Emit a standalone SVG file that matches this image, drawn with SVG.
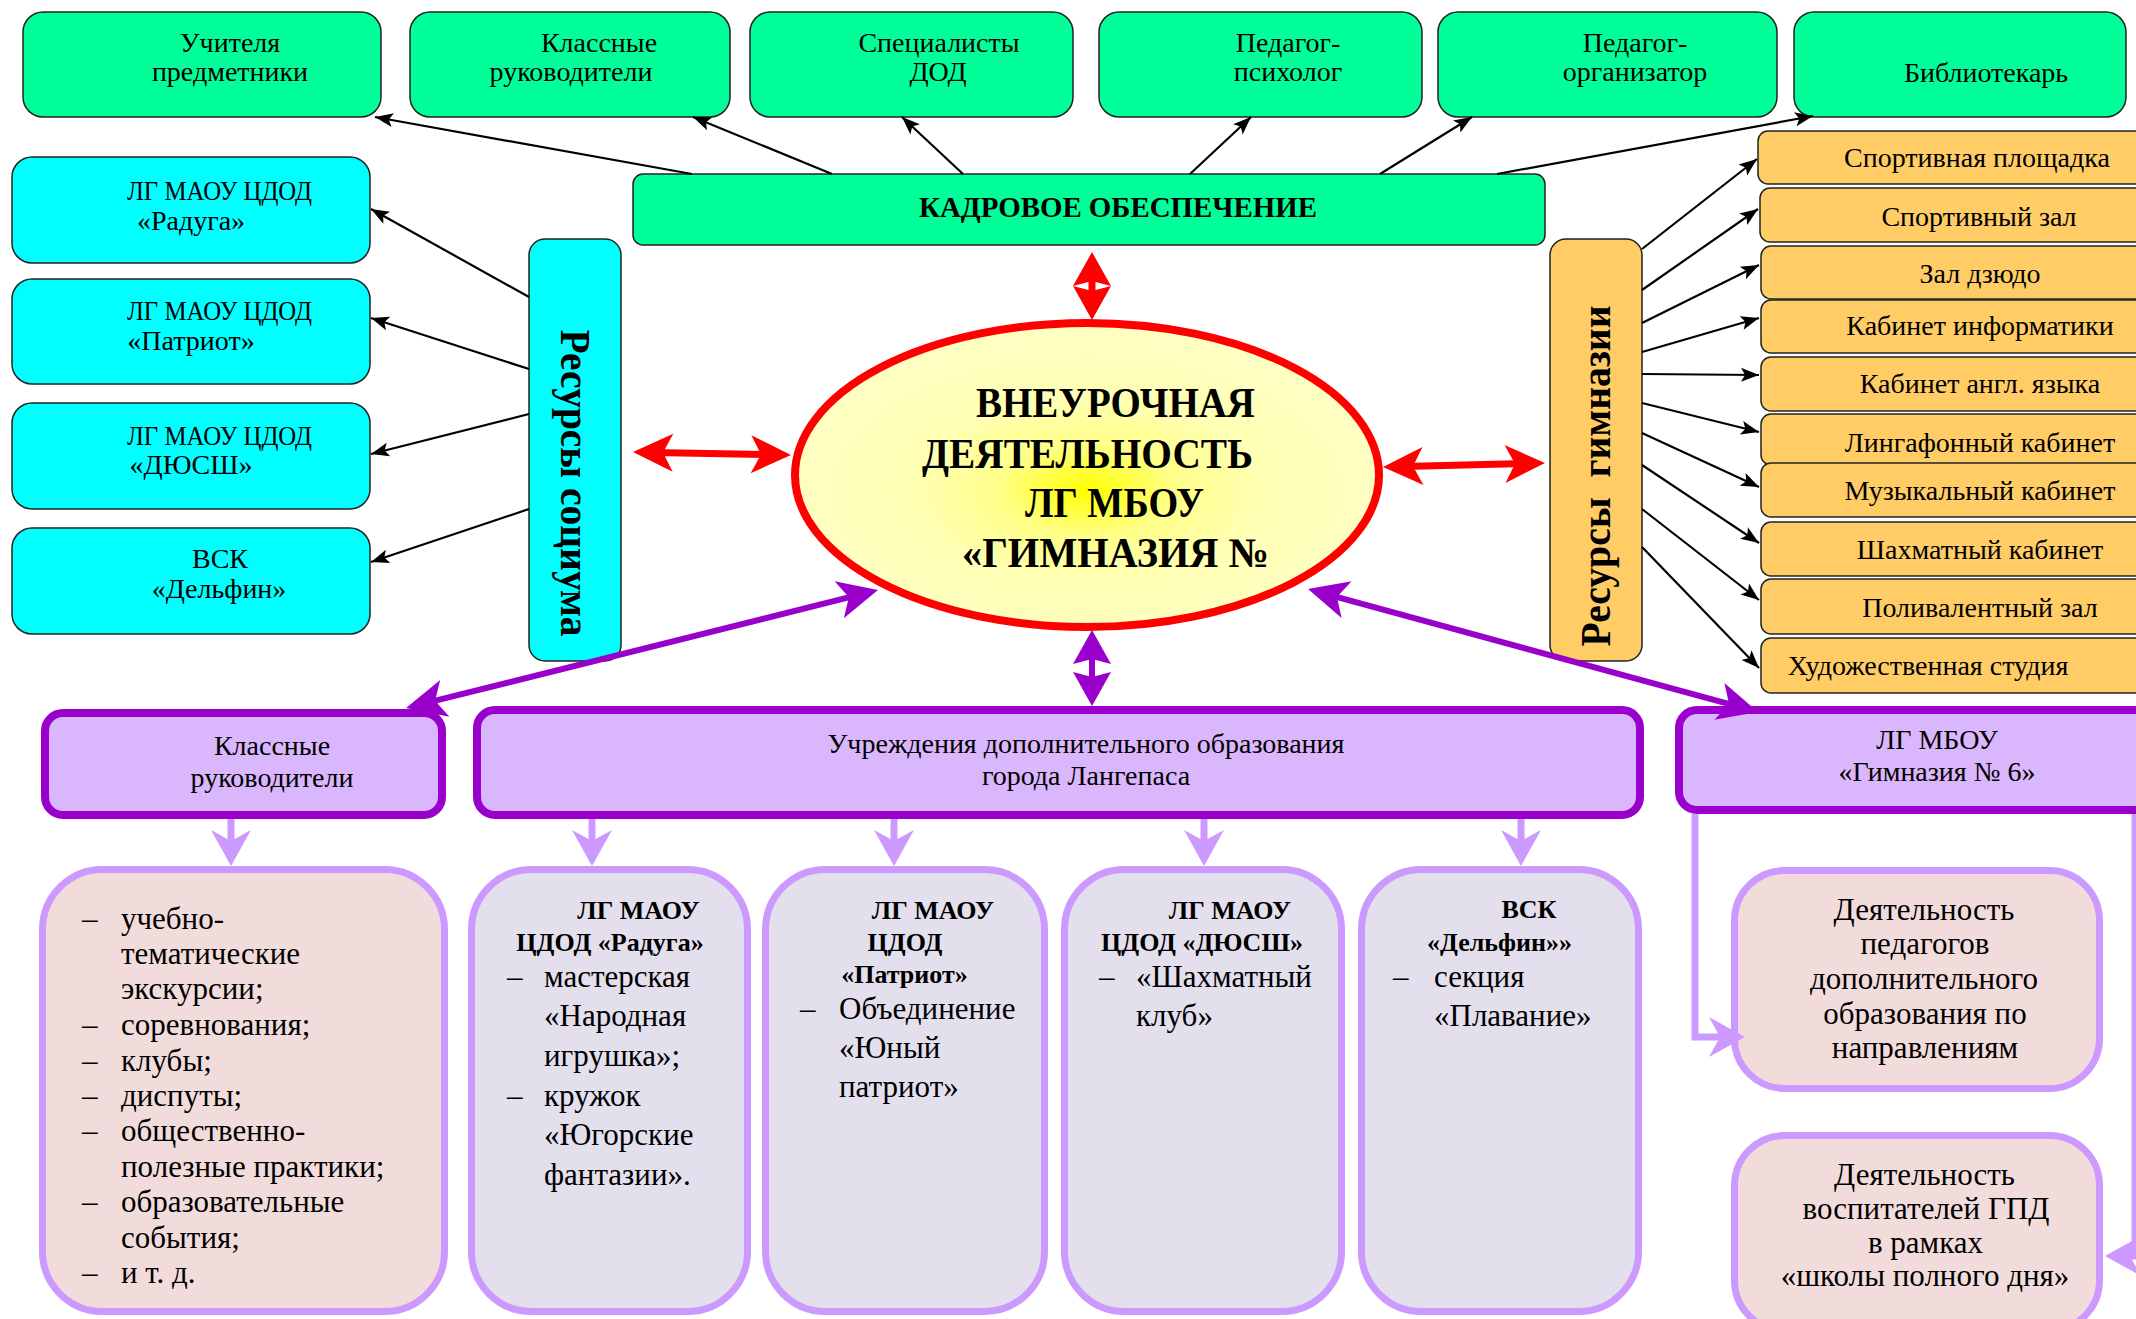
<svg xmlns="http://www.w3.org/2000/svg" width="2136" height="1319" viewBox="0 0 2136 1319">
<style>
.g{fill:#00FF99;stroke:#222;stroke-width:1.5}
.c{fill:#00FFFF;stroke:#222;stroke-width:1.5}
.o{fill:#FFCC66;stroke:#222;stroke-width:1.5}
.p{fill:#DAB6FC;stroke:#9900CC;stroke-width:8}
.lp{fill:#F2DCDB;stroke:#CC99FF;stroke-width:7}
.lg{fill:#E4DFEC;stroke:#CC99FF;stroke-width:7}
text{font-family:"Liberation Serif","Times New Roman",serif;fill:#000}
.t{font-size:28px}
.m{text-anchor:middle}
.l{font-size:31px}
.h{font-size:26px;font-weight:bold}
.bb{font-weight:bold}
.k{stroke:#000;stroke-width:2.2;fill:none}
.r{stroke:#FF0000;stroke-width:7;fill:none}
.v{stroke:#9900CC;stroke-width:6;fill:none}
.lv{stroke:#CC99FF;stroke-width:7;fill:none}
</style>
<defs>
<radialGradient id="eg" cx="0.5" cy="0.55" r="0.5">
<stop offset="0" stop-color="#FFFF00"/>
<stop offset="0.3" stop-color="#FFFF88"/>
<stop offset="0.6" stop-color="#FFFFB4"/>
<stop offset="1" stop-color="#FFFFC2"/>
</radialGradient>
<marker id="ab" viewBox="-20 -8 22 16" markerWidth="22" markerHeight="16" refX="0" refY="0" orient="auto" markerUnits="userSpaceOnUse"><path d="M0,0 L-18,-7 L-14,0 L-18,7 Z" fill="#000"/></marker>
<marker id="ar" viewBox="-22 -21 44 42" markerWidth="44" markerHeight="42" refX="0" refY="0" orient="auto-start-reverse" markerUnits="userSpaceOnUse"><path d="M20,0 L-20,-19 L-10,0 L-20,19 Z" fill="#FF0000"/></marker>
<marker id="av" viewBox="-22 -21 44 42" markerWidth="44" markerHeight="42" refX="0" refY="0" orient="auto-start-reverse" markerUnits="userSpaceOnUse"><path d="M20,0 L-20,-19 L-10,0 L-20,19 Z" fill="#9900CC"/></marker>
<marker id="dr" viewBox="-19 -21 38 42" markerWidth="38" markerHeight="42" refX="0" refY="0" orient="auto-start-reverse" markerUnits="userSpaceOnUse"><path d="M17,0 L-17,-19 L-12,0 L-17,19 Z" fill="#FF0000"/></marker>
<marker id="dv" viewBox="-19 -21 38 42" markerWidth="38" markerHeight="42" refX="0" refY="0" orient="auto-start-reverse" markerUnits="userSpaceOnUse"><path d="M17,0 L-17,-19 L-12,0 L-17,19 Z" fill="#9900CC"/></marker>
<marker id="al" viewBox="-20 -22 40 44" markerWidth="40" markerHeight="44" refX="0" refY="0" orient="auto" markerUnits="userSpaceOnUse"><path d="M18,0 L-18,-20 L-7,0 L-18,20 Z" fill="#CC99FF"/></marker>
</defs>
<rect width="2136" height="1319" fill="#FFFFFF"/>

<g id="staff-teachers"><rect class="g" x="23" y="12" width="358" height="105" rx="20"/><text class="t m" x="230" y="52">Учителя</text><text class="t m" x="230" y="81">предметники</text></g>
<g id="staff-class"><rect class="g" x="410" y="12" width="320" height="105" rx="20"/><text class="t m" x="599" y="52">Классные</text><text class="t m" x="571" y="81">руководители</text></g>
<g id="staff-dod"><rect class="g" x="750" y="12" width="323" height="105" rx="20"/><text class="t m" x="939" y="52">Специалисты</text><text class="t m" x="938" y="81">ДОД</text></g>
<g id="staff-psy"><rect class="g" x="1099" y="12" width="323" height="105" rx="20"/><text class="t m" x="1288" y="52">Педагог-</text><text class="t m" x="1288" y="81">психолог</text></g>
<g id="staff-org"><rect class="g" x="1438" y="12" width="339" height="105" rx="20"/><text class="t m" x="1635" y="52">Педагог-</text><text class="t m" x="1635" y="81">организатор</text></g>
<g id="staff-lib"><rect class="g" x="1794" y="12" width="332" height="105" rx="20"/><text class="t m" x="1986" y="82">Библиотекарь</text></g>

<g id="staffing"><rect class="g" x="633" y="174" width="912" height="71" rx="10"/><text class="bb m" x="1118" y="217" font-size="30" textLength="398" lengthAdjust="spacingAndGlyphs">КАДРОВОЕ ОБЕСПЕЧЕНИЕ</text></g>

<g id="soc-raduga"><rect class="c" x="12" y="157" width="358" height="106" rx="20"/><text class="t m" x="219.5" y="200" textLength="185" lengthAdjust="spacingAndGlyphs">ЛГ МАОУ ЦДОД</text><text class="t m" x="191" y="230">«Радуга»</text></g>
<g id="soc-patriot"><rect class="c" x="12" y="279" width="358" height="105" rx="20"/><text class="t m" x="219.5" y="320" textLength="185" lengthAdjust="spacingAndGlyphs">ЛГ МАОУ ЦДОД</text><text class="t m" x="191" y="350">«Патриот»</text></g>
<g id="soc-dyussh"><rect class="c" x="12" y="403" width="358" height="106" rx="20"/><text class="t m" x="219.5" y="445" textLength="185" lengthAdjust="spacingAndGlyphs">ЛГ МАОУ ЦДОД</text><text class="t m" x="191" y="474">«ДЮСШ»</text></g>
<g id="soc-delfin"><rect class="c" x="12" y="528" width="358" height="106" rx="20"/><text class="t m" x="220" y="568">ВСК</text><text class="t m" x="219" y="598">«Дельфин»</text></g>

<g id="socium"><rect class="c" x="529" y="239" width="92" height="422" rx="16"/><text class="bb m" transform="translate(561,483) rotate(90)" x="0" y="0" font-size="42" textLength="307" lengthAdjust="spacingAndGlyphs">Ресурсы социума</text></g>

<g id="gym-res"><rect class="o" x="1550" y="239" width="92" height="422" rx="16"/><text class="bb m" transform="translate(1610,476) rotate(-90)" x="0" y="0" font-size="42" textLength="341" lengthAdjust="spacingAndGlyphs" xml:space="preserve">Ресурсы  гимназии</text></g>

<g id="res-1"><rect class="o" x="1758" y="131" width="400" height="53" rx="10"/><text class="t m" x="1977" y="167">Спортивная площадка</text></g>
<g id="res-2"><rect class="o" x="1760" y="188" width="400" height="54" rx="10"/><text class="t m" x="1979" y="226">Спортивный зал</text></g>
<g id="res-3"><rect class="o" x="1761" y="246" width="400" height="53" rx="10"/><text class="t m" x="1980" y="283">Зал дзюдо</text></g>
<g id="res-4"><rect class="o" x="1761" y="300" width="400" height="53" rx="10"/><text class="t m" x="1980" y="335">Кабинет информатики</text></g>
<g id="res-5"><rect class="o" x="1761" y="357" width="400" height="54" rx="10"/><text class="t m" x="1980" y="393">Кабинет англ. языка</text></g>
<g id="res-6"><rect class="o" x="1761" y="414" width="400" height="51" rx="10"/><text class="t m" x="1980" y="452">Лингафонный кабинет</text></g>
<g id="res-7"><rect class="o" x="1761" y="463" width="400" height="54" rx="10"/><text class="t m" x="1980" y="500">Музыкальный кабинет</text></g>
<g id="res-8"><rect class="o" x="1761" y="522" width="400" height="54" rx="10"/><text class="t m" x="1980" y="559">Шахматный кабинет</text></g>
<g id="res-9"><rect class="o" x="1761" y="579" width="400" height="55" rx="10"/><text class="t m" x="1980" y="617">Поливалентный зал</text></g>
<g id="res-10"><rect class="o" x="1761" y="638" width="400" height="55" rx="10"/><text class="t m" x="1928" y="675">Художественная студия</text></g>

<g id="center"><ellipse cx="1087" cy="475" rx="292" ry="152" fill="url(#eg)" stroke="#FF0000" stroke-width="8"/>
<text class="bb m" x="1115.5" y="417" font-size="42" textLength="279" lengthAdjust="spacingAndGlyphs">ВНЕУРОЧНАЯ</text>
<text class="bb m" x="1087.5" y="468" font-size="42" textLength="331" lengthAdjust="spacingAndGlyphs">ДЕЯТЕЛЬНОСТЬ</text>
<text class="bb m" x="1114.5" y="517" font-size="42" textLength="179" lengthAdjust="spacingAndGlyphs">ЛГ МБОУ</text>
<text class="bb m" x="1115.5" y="567" font-size="42" textLength="307" lengthAdjust="spacingAndGlyphs">«ГИМНАЗИЯ №</text></g>

<g id="class-leaders"><rect class="p" x="45" y="713" width="397" height="102" rx="18"/><text class="t m" x="272" y="755">Классные</text><text class="t m" x="272" y="787">руководители</text></g>
<g id="dod-institutions"><rect class="p" x="477" y="710" width="1163" height="105" rx="18"/><text class="t m" x="1086" y="753">Учреждения дополнительного образования</text><text class="t m" x="1086" y="785">города Лангепаса</text></g>
<g id="gymnasium6"><rect class="p" x="1679" y="710" width="480" height="100" rx="18"/><text class="t m" x="1937" y="749">ЛГ МБОУ</text><text class="t m" x="1937" y="781">«Гимназия № 6»</text></g>

<g id="class-activities"><rect class="lp" x="42.5" y="869.5" width="402" height="442" rx="60"/>
<text class="l" x="82" y="929">–</text><text class="l" x="121" y="929">учебно-</text>
<text class="l" x="121" y="964">тематические</text>
<text class="l" x="121" y="999">экскурсии;</text>
<text class="l" x="82" y="1035">–</text><text class="l" x="121" y="1035">соревнования;</text>
<text class="l" x="82" y="1071">–</text><text class="l" x="121" y="1071">клубы;</text>
<text class="l" x="82" y="1106">–</text><text class="l" x="121" y="1106">диспуты;</text>
<text class="l" x="82" y="1141">–</text><text class="l" x="121" y="1141">общественно-</text>
<text class="l" x="121" y="1177">полезные практики;</text>
<text class="l" x="82" y="1212">–</text><text class="l" x="121" y="1212">образовательные</text>
<text class="l" x="121" y="1248">события;</text>
<text class="l" x="82" y="1283">–</text><text class="l" x="121" y="1283">и т. д.</text></g>

<g id="raduga"><rect class="lg" x="471.5" y="869.5" width="276" height="442" rx="60"/>
<text class="h m" x="638.5" y="919">ЛГ МАОУ</text><text class="h m" x="610" y="951">ЦДОД «Радуга»</text>
<text class="l" x="507" y="987">–</text><text class="l" x="544" y="987">мастерская</text>
<text class="l" x="544" y="1026">«Народная</text>
<text class="l" x="544" y="1066">игрушка»;</text>
<text class="l" x="507" y="1106">–</text><text class="l" x="544" y="1106">кружок</text>
<text class="l" x="544" y="1145">«Югорские</text>
<text class="l" x="544" y="1185">фантазии».</text></g>

<g id="patriot"><rect class="lg" x="765.5" y="869.5" width="279" height="442" rx="60"/>
<text class="h m" x="933" y="919">ЛГ МАОУ</text><text class="h m" x="905" y="951">ЦДОД</text><text class="h m" x="904.5" y="983">«Патриот»</text>
<text class="l" x="800" y="1019">–</text><text class="l" x="839" y="1019">Объединение</text>
<text class="l" x="839" y="1058">«Юный</text>
<text class="l" x="839" y="1097">патриот»</text></g>

<g id="dyussh"><rect class="lg" x="1064.5" y="869.5" width="277" height="442" rx="60"/>
<text class="h m" x="1230" y="919">ЛГ МАОУ</text><text class="h m" x="1202" y="951">ЦДОД «ДЮСШ»</text>
<text class="l" x="1099" y="987">–</text><text class="l" x="1136" y="987">«Шахматный</text>
<text class="l" x="1136" y="1026">клуб»</text></g>

<g id="delfin"><rect class="lg" x="1361.5" y="869.5" width="277" height="442" rx="60"/>
<text class="h m" x="1529" y="918">ВСК</text><text class="h m" x="1499.5" y="951">«Дельфин»»</text>
<text class="l" x="1393" y="987">–</text><text class="l" x="1434" y="987">секция</text>
<text class="l" x="1434" y="1026">«Плавание»</text></g>

<g id="teachers-dod"><rect class="lp" x="1734.5" y="870.5" width="365" height="218" rx="50"/>
<text class="l m" x="1924" y="920">Деятельность</text>
<text class="l m" x="1925" y="954">педагогов</text>
<text class="l m" x="1924" y="989">дополнительного</text>
<text class="l m" x="1925" y="1024">образования по</text>
<text class="l m" x="1925" y="1058">направлениям</text></g>

<g id="gpd"><rect class="lp" x="1734.5" y="1135.5" width="365" height="195" rx="50"/>
<text class="l m" x="1924.5" y="1185">Деятельность</text>
<text class="l m" x="1926" y="1219">воспитателей ГПД</text>
<text class="l m" x="1925.5" y="1253">в рамках</text>
<text class="l m" x="1925" y="1286">«школы полного дня»</text></g>

<g id="connectors">
<line class="k" x1="692" y1="174" x2="375" y2="117" marker-end="url(#ab)"/>
<line class="k" x1="832" y1="174" x2="693" y2="117" marker-end="url(#ab)"/>
<line class="k" x1="963" y1="174" x2="902" y2="117" marker-end="url(#ab)"/>
<line class="k" x1="1190" y1="174" x2="1251" y2="117" marker-end="url(#ab)"/>
<line class="k" x1="1380" y1="174" x2="1472" y2="117" marker-end="url(#ab)"/>
<line class="k" x1="1497" y1="174" x2="1813" y2="116" marker-end="url(#ab)"/>
<line class="k" x1="529" y1="297" x2="371" y2="209" marker-end="url(#ab)"/>
<line class="k" x1="529" y1="369" x2="371" y2="318" marker-end="url(#ab)"/>
<line class="k" x1="529" y1="414" x2="371" y2="454" marker-end="url(#ab)"/>
<line class="k" x1="529" y1="509" x2="371" y2="562" marker-end="url(#ab)"/>
<line class="k" x1="1642" y1="249" x2="1757" y2="159" marker-end="url(#ab)"/>
<line class="k" x1="1642" y1="290" x2="1758" y2="209" marker-end="url(#ab)"/>
<line class="k" x1="1642" y1="323" x2="1759" y2="265" marker-end="url(#ab)"/>
<line class="k" x1="1642" y1="352" x2="1759" y2="318" marker-end="url(#ab)"/>
<line class="k" x1="1642" y1="374" x2="1759" y2="375" marker-end="url(#ab)"/>
<line class="k" x1="1642" y1="403" x2="1759" y2="432" marker-end="url(#ab)"/>
<line class="k" x1="1642" y1="433" x2="1759" y2="487" marker-end="url(#ab)"/>
<line class="k" x1="1642" y1="465" x2="1759" y2="543" marker-end="url(#ab)"/>
<line class="k" x1="1642" y1="509" x2="1759" y2="600" marker-end="url(#ab)"/>
<line class="k" x1="1642" y1="547" x2="1759" y2="668" marker-end="url(#ab)"/>

<line class="r" x1="1092" y1="269" x2="1092" y2="303" marker-start="url(#dr)" marker-end="url(#dr)"/>
<line class="r" x1="653" y1="452.4" x2="771" y2="454.6" marker-start="url(#ar)" marker-end="url(#ar)"/>
<line class="r" x1="1403" y1="466.5" x2="1525" y2="463.5" marker-start="url(#ar)" marker-end="url(#ar)"/>

<line class="v" x1="1092" y1="647" x2="1092" y2="689" marker-start="url(#dv)" marker-end="url(#dv)"/>
<line class="v" x1="858.6" y1="594.9" x2="425.4" y2="703.2" marker-start="url(#av)" marker-end="url(#av)"/>
<line class="v" x1="1327.3" y1="594.3" x2="1738.7" y2="706.7" marker-start="url(#av)" marker-end="url(#av)"/>

<line class="lv" x1="231" y1="819" x2="231" y2="848" marker-end="url(#al)"/>
<line class="lv" x1="592" y1="819" x2="592" y2="848" marker-end="url(#al)"/>
<line class="lv" x1="894" y1="819" x2="894" y2="848" marker-end="url(#al)"/>
<line class="lv" x1="1204" y1="819" x2="1204" y2="848" marker-end="url(#al)"/>
<line class="lv" x1="1521" y1="819" x2="1521" y2="848" marker-end="url(#al)"/>
<path class="lv" d="M1695,814 V1037 H1727" marker-end="url(#al)"/>
<path class="lv" d="M2135,814 V1256 H2123" marker-end="url(#al)"/>
</g>
</svg>
